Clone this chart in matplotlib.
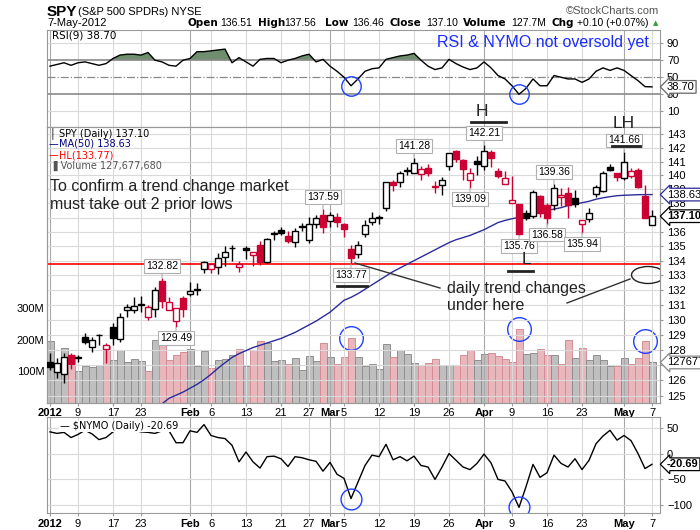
import numpy as np
import matplotlib.pyplot as plt
from matplotlib.patches import Ellipse
from matplotlib.ticker import NullLocator, NullFormatter

plt.rcParams['font.family'] = ['Liberation Sans', 'DejaVu Sans']
plt.rcParams['font.size'] = 8

# SPY daily 3-Jan-2012 .. 7-May-2012
opens = [127.18, 126.56, 126.42, 127.64, 127.46, 128.83, 128.18, 128.95, 128.05, 129.54,
         128.70, 130.65, 130.65, 130.95, 130.20, 130.70, 132.63, 130.65, 129.93, 131.45,
         131.73, 132.00, 133.42, 133.42, 133.55, 134.25, 134.85, 133.58, 134.90, 134.36,
         135.10, 133.94, 135.85, 136.14, 135.72, 135.31, 136.35, 135.44, 136.58, 137.20,
         136.77, 137.07, 136.56, 134.84, 134.45, 135.86, 136.68, 137.00, 137.70, 139.53,
         139.53, 140.30, 140.21, 140.11, 140.54, 139.25, 139.33, 140.69, 141.80, 141.14,
         139.69, 141.05, 140.69, 141.68, 140.30, 139.40, 138.05, 137.97, 137.30, 137.10,
         138.55, 137.90, 137.90, 138.45, 138.72, 138.40, 136.56, 136.89, 138.67, 138.86,
         140.60, 140.17, 139.80, 139.98, 140.42, 138.55, 136.51]
highs = [127.77, 127.45, 127.77, 127.80, 127.66, 129.10, 128.83, 129.06, 128.47, 129.76,
         130.42, 131.05, 131.50, 131.56, 131.00, 132.18, 132.82, 131.54, 130.80, 131.60,
         132.57, 132.46, 134.00, 133.80, 134.54, 135.00, 135.10, 134.00, 135.00, 134.60,
         135.33, 135.60, 136.03, 136.37, 136.03, 136.30, 136.60, 137.03, 137.20, 137.59,
         137.36, 137.30, 136.60, 135.10, 135.37, 136.84, 137.36, 137.20, 139.50, 139.69,
         140.30, 140.60, 141.28, 140.66, 140.80, 139.57, 139.88, 141.61, 141.85, 141.20,
         140.55, 141.38, 142.21, 141.85, 140.55, 140.30, 139.94, 137.97, 137.55, 138.98,
         138.60, 138.00, 139.36, 139.10, 139.20, 138.93, 136.84, 137.67, 139.30, 140.30,
         140.84, 140.20, 141.66, 140.55, 140.50, 139.33, 137.56]
lows = [126.68, 126.14, 125.82, 126.72, 127.21, 128.41, 127.89, 128.32, 127.12, 128.32,
        128.54, 130.16, 130.45, 130.50, 129.98, 130.20, 130.76, 130.65, 129.49, 130.16,
        131.60, 131.66, 133.18, 133.18, 133.07, 133.65, 134.00, 133.25, 134.10, 133.65,
        133.71, 133.82, 135.44, 135.75, 135.22, 134.95, 136.03, 135.22, 136.30, 135.95,
        136.33, 136.37, 135.67, 133.77, 134.17, 135.63, 136.49, 136.58, 137.50, 138.86,
        139.17, 140.04, 140.14, 139.66, 139.93, 138.73, 138.62, 140.40, 141.00, 139.66,
        139.09, 140.04, 140.40, 140.60, 139.80, 139.40, 138.05, 135.76, 136.84, 137.00,
        137.05, 136.58, 137.55, 137.80, 137.00, 137.76, 135.94, 136.72, 138.45, 138.79,
        140.30, 139.60, 139.69, 139.80, 139.10, 136.96, 136.46]
closes = [126.89, 127.12, 127.55, 127.06, 127.50, 128.54, 128.66, 129.00, 128.30, 128.77,
          130.16, 130.87, 130.94, 131.08, 130.87, 132.00, 131.27, 131.20, 130.76, 130.74,
          131.93, 132.07, 133.94, 133.76, 134.18, 134.59, 134.90, 133.76, 134.75, 134.60,
          133.94, 135.53, 135.90, 135.95, 135.38, 136.09, 136.40, 136.56, 136.96, 136.37,
          137.17, 136.72, 136.19, 134.17, 135.07, 136.49, 137.00, 137.05, 139.50, 139.28,
          140.14, 140.37, 140.90, 140.47, 140.21, 139.20, 139.69, 141.61, 141.17, 140.47,
          140.21, 140.85, 141.80, 141.24, 139.93, 139.80, 138.23, 135.86, 137.00, 138.80,
          137.30, 137.00, 139.10, 138.62, 137.86, 137.97, 136.84, 137.31, 139.20, 140.20,
          140.37, 139.88, 141.00, 140.30, 139.20, 137.00, 137.10]
volume_m = [195, 118, 175, 150, 100, 115, 112, 121, 181, 134,
            166, 129, 140, 132, 102, 200, 192, 137, 150, 160,
            169, 115, 163, 110, 137, 139, 150, 170, 118, 168,
            197, 188, 132, 134, 124, 141, 105, 147, 132, 189,
            146, 122, 144, 205, 146, 118, 124, 106, 186, 146,
            167, 153, 125, 121, 125, 138, 121, 121, 121, 151,
            167, 137, 153, 157, 148, 140, 129, 235, 154, 157,
            170, 151, 151, 124, 200, 143, 173, 137, 151, 137,
            116, 115, 141, 122, 143, 195, 127.67768]
ma_start = 16
ma50 = [124.50, 124.85, 125.05, 125.25, 125.50, 125.75, 126.05, 126.40, 126.80, 127.15,
        127.50, 127.75, 127.95, 128.15, 128.30, 128.45, 128.60, 128.75, 128.95, 129.15,
        129.40, 129.65, 129.90, 130.20, 130.50, 130.90, 131.30, 131.50, 131.75, 132.05,
        132.35, 132.65, 132.95, 133.25, 133.50, 133.75, 134.00, 134.25, 134.50, 134.75,
        135.00, 135.25, 135.45, 135.60, 135.75, 135.95, 136.15, 136.40, 136.65, 136.80,
        136.92, 137.02, 137.12, 137.25, 137.40, 137.50, 137.60, 137.70, 137.85, 137.95,
        138.05, 138.15, 138.30, 138.40, 138.48, 138.55, 138.58, 138.60, 138.62, 138.63, 138.63]
hl_level = 133.77
rsi9 = [63, 65, 67, 64, 67, 68, 66, 64, 66, 72,
        76, 77, 77, 76, 79, 70, 68, 64, 63, 70,
        72, 80, 80, 81, 82, 83, 67, 73, 68, 63,
        71, 72, 72, 67, 70, 72, 75, 77, 68, 71,
        63, 57, 50, 40, 48, 57, 60, 61, 71, 73,
        75, 76, 78, 70, 63, 59, 61, 71, 66, 62,
        59, 61, 68, 61, 52, 48, 40, 30, 37, 48,
        40, 40, 52, 50, 48, 48, 44, 48, 57, 61,
        58, 61, 58, 52, 46, 39, 38.70]
nymo = [42, 39, 41, 31, 37, 45, 38, 27, 31, 42,
        48, 45, 45, 42, 41, 39, 44, 44, 21, 21,
        44, 41, 56, 35, 31, 29, 16, -16, 3, -16,
        -28, -6, -5, -10, -25, -6, -8, -12, -15, -34,
        -17, -40, -48, -87, -55, -23, -3, -6, 18, -12,
        -6, -14, -5, -23, -26, -50, -26, 0, -13, -26,
        -31, -19, -1, -18, -50, -53, -74, -104, -64, -21,
        -46, -37, -3, -19, -26, -10, -31, -13, 19, 34,
        45, 26, 35, 25, 0, -29, -20.69]

tick_pos = [0, 4, 9, 13, 20, 23, 28, 33, 37, 40, 42, 47, 52, 57, 62, 66, 71, 76, 82, 86]
tick_text = ['2012', '9', '17', '23', 'Feb', '6', '13', '21', '27', 'Mar', '5',
             '12', '19', '26', 'Apr', '9', '16', '23', 'May', '7']
bold_ticks = {'2012', 'Feb', 'Mar', 'Apr', 'May'}
peak_labels = [16, 39, 52, 62, 72, 82]
trough_labels = [18, 43, 60, 67, 71, 76]
circled = [43, 67]

W, H = 700, 530
RED = '#cc0033'
GRID = '#dadada'
GRID_DARK = '#a8a8a8'
BLUE = '#2040ff'
VERD = ['DejaVu Sans']

n = len(closes)
x = np.arange(n)
o = np.array(opens); c = np.array(closes)
hi = np.array(highs); lo = np.array(lows)
prev = np.r_[c[0] - 1, c[:-1]]
up = c >= prev
filled = c < o

fig = plt.figure(figsize=(W / 100, H / 100), dpi=100)


def box(top, bottom):
    return [47 / W, 1 - bottom / H, (660 - 47) / W, (bottom - top) / H]


def ftext(px, py, s, **kw):
    kw.setdefault('va', 'center')
    fig.text(px / W, 1 - py / H, s, **kw)


ax_rsi = fig.add_axes(box(29.5, 126.7))
ax_vol = fig.add_axes(box(126.7, 402.7))
ax = fig.add_axes(box(126.7, 402.7), sharex=ax_vol)
ax.patch.set_visible(False)
ax_ny = fig.add_axes(box(416.7, 513.3))

xlim = (-0.43, 87.14)
for a in (ax_rsi, ax_vol, ax, ax_ny):
    a.set_xlim(*xlim)
    for s in a.spines.values():
        s.set_color('#9a9a9a')
        s.set_linewidth(0.8)
for a in (ax_rsi, ax, ax_ny):
    for t, lab in zip(tick_pos, tick_text):
        a.axvline(t, color=GRID_DARK if lab in bold_ticks else GRID, lw=0.8, zorder=0)


def side_label(a, trans, yv, s, ec, bold=False):
    a.annotate(s, xy=(1, yv), xycoords=trans, xytext=(7, 0),
               textcoords='offset pixels', ha='left', va='center', fontsize=8,
               fontweight='bold' if bold else 'normal', annotation_clip=False, zorder=10,
               bbox=dict(boxstyle='larrow,pad=0.12', fc='white', ec=ec, lw=0.9))


# ---- RSI panel
r = np.array(rsi9)
ax_rsi.fill_between(x, 70, r, where=r > 70, interpolate=True, color='#6e8e6e', lw=0)
ax_rsi.plot(x, r, color='black', lw=1)
for lvl in (90, 10):
    ax_rsi.axhline(lvl, color=GRID, lw=0.8, zorder=0)
ax_rsi.axhline(70, color='#8a8a8a', lw=1.2, zorder=1)
ax_rsi.axhline(30, color='#8a8a8a', lw=1.2, zorder=1)
ax_rsi.axhline(50, color='#8a8a8a', lw=0.9, ls='-.', zorder=1)
ax_rsi.set_ylim(-8, 106)
ax_rsi.set_yticks([90, 70, 50, 30, 10])
ax_rsi.yaxis.tick_right()
ax_rsi.tick_params(axis='y', length=2, pad=3, labelsize=8, color='#999')
ax_rsi.tick_params(axis='x', length=0, labelbottom=False)
ax_rsi.plot(circled, r[circled], 'o', ms=14, mfc='none', mec=BLUE, mew=1)
side_label(ax_rsi, ax_rsi.get_yaxis_transform(), r[-1], f'{r[-1]:.2f}', '#666666')

# ---- volume
vol = np.array(volume_m) * 1e6
ax_vol.bar(x, vol, width=1.0, color=np.where(up, '#bfbfbf', '#e8b7bc'),
           edgecolor=np.where(up, '#8f8f8f', '#d68c95'), lw=0.7, zorder=1)
ax_vol.set_ylim(0, 876e6)
ax_vol.set_yticks([100e6, 200e6, 300e6])
ax_vol.set_yticklabels(['100M', '200M', '300M'])
ax_vol.tick_params(axis='y', length=0, pad=2, labelsize=8)
ax_vol.tick_params(axis='x', labelbottom=False, length=0)
ax_vol.plot([43, 67, 85], vol[[43, 67, 85]], 'o', ms=17, mfc='none', mec=BLUE, mew=1)

# ---- price panel
ax.set_yscale('log')
ax.set_ylim(124.57, 143.55)
ax.set_yticks(range(125, 144))
ax.set_yticklabels([str(v) for v in range(125, 144)])
ax.yaxis.set_minor_locator(NullLocator())
ax.yaxis.set_minor_formatter(NullFormatter())
ax.yaxis.tick_right()
ax.tick_params(axis='y', length=2, pad=3, labelsize=8, color='#999')
ax.grid(True, axis='y', color=GRID, lw=0.8, zorder=0)

ax.axhline(hl_level, color='#ff0000', lw=1.2, zorder=2)
ax.plot(x[ma_start:], ma50, color='#2b2b9c', lw=1, zorder=2.5)

col = np.where(up, 'black', RED)
ax.vlines(x, lo, hi, colors=col, lw=1, zorder=3)
body_h = np.maximum(np.abs(c - o), 0.04)
ax.bar(x, body_h, bottom=np.minimum(o, c), width=0.72,
       color=[cc if f else 'white' for cc, f in zip(col, filled)],
       edgecolor=col, lw=1, zorder=4)

lab_box = dict(boxstyle='square,pad=0.18', fc='white', ec='#b0b0b0', lw=0.8)
arrow = dict(arrowstyle='-', color='#b0b0b0', lw=0.8, shrinkA=0, shrinkB=0)
for i in peak_labels:
    ax.annotate(f'{hi[i]:.2f}', xy=(i, hi[i]), xytext=(0, 7), textcoords='offset pixels',
                ha='center', va='bottom', fontsize=7.5, bbox=lab_box, zorder=6, arrowprops=arrow)
for i in trough_labels:
    ax.annotate(f'{lo[i]:.2f}', xy=(i, lo[i]), xytext=(0, -6), textcoords='offset pixels',
                ha='center', va='top', fontsize=7.5, bbox=lab_box, zorder=6, arrowprops=arrow)

ax.set_xticks(tick_pos)
ax.set_xticklabels(tick_text)
ax.tick_params(axis='x', length=2, pad=2, labelsize=8, color='#999')
for t in ax.get_xticklabels():
    if t.get_text() in bold_ticks:
        t.set_fontweight('bold')

side_label(ax, ax.get_yaxis_transform(), ma50[-1], f'{ma50[-1]:.2f}', '#2b2b9c')
side_label(ax, ax.get_yaxis_transform(), c[-1], f'{c[-1]:.2f}', 'black', bold=True)
side_label(ax, ax_vol.get_yaxis_transform(), vol[-1], f'{vol[-1]:.0f}', '#888888')

# ---- NYMO panel
ny = np.array(nymo)
ax_ny.plot(x, ny, color='black', lw=1)
ax_ny.set_ylim(-115.5, 71.3)
ax_ny.set_yticks([50, 0, -50, -100])
for lvl in (50, 0, -50, -100):
    ax_ny.axhline(lvl, color=GRID, lw=0.8, zorder=0)
ax_ny.yaxis.tick_right()
ax_ny.tick_params(axis='y', length=2, pad=3, labelsize=8, color='#999')
ax_ny.set_xticks(tick_pos)
ax_ny.set_xticklabels(tick_text)
ax_ny.tick_params(axis='x', length=2, pad=2, labelsize=8, color='#999')
for t in ax_ny.get_xticklabels():
    if t.get_text() in bold_ticks:
        t.set_fontweight('bold')
ax_ny.plot(circled, ny[circled], 'o', ms=15, mfc='none', mec=BLUE, mew=1)
side_label(ax_ny, ax_ny.get_yaxis_transform(), ny[-1], f'{ny[-1]:.2f}', 'black', bold=True)
ax_ny.text(0.021, 0.9, '\u2014 $NYMO (Daily) -20.69', transform=ax_ny.transAxes, fontsize=7,
           family=VERD, va='center', bbox=dict(fc='white', ec='none', pad=0.5), zorder=5)

# ---- header
ftext(47, 12, 'SPY', fontsize=11, fontweight='bold')
ftext(78, 12, '(S&P 500 SPDRs) NYSE', fontsize=8)
ftext(659, 11, '\u00a9StockCharts.com', fontsize=8, color='#555555', ha='right')
ftext(47, 23, '7-May-2012', fontsize=8)
header = [(187, 'Open', True), (220, '136.51', False), (258, 'High', True), (284, '137.56', False),
          (325, 'Low', True), (352, '136.46', False), (389, 'Close', True), (426, '137.10', False),
          (463, 'Volume', True), (511, '127.7M', False), (552, 'Chg', True),
          (577, '+0.10 (+0.07%)', False)]
for px_, s, b in header:
    if b:
        ftext(px_, 23, s, fontsize=7.5, fontweight='bold', family=VERD)
    else:
        ftext(px_, 23, s, fontsize=7.5)
ftext(653, 23, '\u25b2', fontsize=5, color='#339933', family=VERD)

# legends
ftext(52, 36, 'RSI(9) 38.70', fontsize=7.5, family=VERD)
ftext(50, 133, '\u2502 SPY (Daily) 137.10', fontsize=7, family=VERD)
ftext(49, 144, '\u2014', fontsize=7, color='#000080', family=VERD)
ftext(59, 144, 'MA(50) 138.63', fontsize=7, color='#000080', family=VERD)
ftext(49, 155, '\u2014', fontsize=7, color='#ff0000', family=VERD)
ftext(59, 155, 'HL(133.77)', fontsize=7, color='#ff0000', family=VERD)
ftext(50, 166, '\u2590 Volume 127,677,680', fontsize=7, color='#555555', family=VERD)

# commentary
big = dict(fontsize=11.5)
ftext(437, 43, 'RSI & NYMO not oversold yet', color='#1a2bff', **big)
ftext(50, 187, 'To confirm a trend change market', color='#222222', **big)
ftext(50, 204, 'must take out 2 prior lows', color='#222222', **big)
ftext(447, 289, 'daily trend changes', color='#222222', **big)
ftext(447, 306, 'under here', color='#222222', **big)
ftext(482, 112, 'H', color='#222222', ha='center', fontsize=12.5)
ftext(624, 124, 'LH', color='#222222', ha='center', fontsize=12.5)
ftext(526, 259, 'L', color='#222222', ha='center', fontsize=12.5)


def to_ax(px, py):
    return ((px - 47) / 613, 1 - (py - 126.7) / 276)


for (x0, x1, yy) in [(337, 367, 286), (508, 533, 271), (612, 640, 146)]:
    p0, p1 = to_ax(x0, yy), to_ax(x1, yy)
    ax.plot([p0[0], p1[0]], [p0[1], p1[1]], transform=ax.transAxes, color='#222222', lw=2,
            zorder=7, clip_on=False)
for (x0, y0, x1, y1) in [(355, 263, 440, 288), (567, 303, 630, 279)]:
    p0, p1 = to_ax(x0, y0), to_ax(x1, y1)
    ax.plot([p0[0], p1[0]], [p0[1], p1[1]], transform=ax.transAxes, color='#333333', lw=1,
            zorder=7)
ec = to_ax(648, 275)
ax.add_patch(Ellipse(ec, 33 / 613, 17 / 276, transform=ax.transAxes, fill=False,
                     ec='#222222', lw=1, zorder=7))

# H underline sits above the price panel, in figure space
fig.add_artist(plt.Line2D([471 / W, 506 / W], [1 - 122 / H, 1 - 122 / H], color='#222222', lw=2))

fig.savefig('out.png', dpi=100)
